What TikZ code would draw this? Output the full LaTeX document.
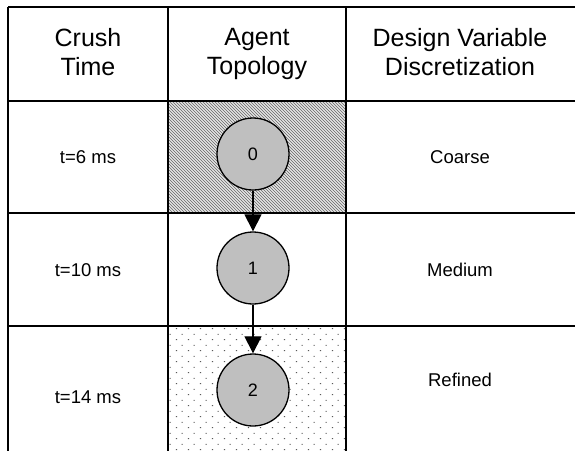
\documentclass[tikz,border=0pt]{standalone}
\usepackage{fontspec}
\setmainfont{Liberation Sans}
\usepackage{tikz}
\usetikzlibrary{patterns,arrows.meta}

\pgfdeclarepatternformonly{sparse dots}{\pgfpointorigin}{\pgfpoint{11.6pt}{11.2pt}}{\pgfpoint{11.6pt}{11.2pt}}{%
  \pgfpathrectangle{\pgfpoint{2pt}{2pt}}{\pgfpoint{1.1pt}{1.1pt}}%
  \pgfpathrectangle{\pgfpoint{7.8pt}{7.6pt}}{\pgfpoint{1.1pt}{1.1pt}}%
  \pgfusepath{fill}}

\begin{document}
\begin{tikzpicture}[x=1pt,y=-1pt]
        \def\colA{8}
        \def\colB{168}
        \def\colC{346}
        \def\rowA{7}
        \def\rowB{101}
        \def\rowC{213}
        \def\rowD{326}
        \tikzstyle{agent}=[circle, draw=black, line width=1.3pt, fill=black!25, minimum size=72pt, inner sep=0pt, font=\fontsize{18}{21}\selectfont]
        \tikzstyle{head}=[align=center, anchor=north, inner sep=0pt, font=\fontsize{25}{29}\selectfont]
        \tikzstyle{cell}=[font=\fontsize{18.5}{22}\selectfont]
        \tikzstyle{grid}=[line width=1.6pt]

        \useasboundingbox (0,0) rectangle (575,451);

        % Shading of the agent cells
        \fill [black!10] (\colB,\rowB) rectangle (\colC,\rowC);
        \fill [pattern=north west lines, pattern color=black!60] (\colB,\rowB) rectangle (\colC,\rowC);
        \fill [pattern=sparse dots, pattern color=black!65] (\colB,\rowD) rectangle (\colC,451);

        % Table
        \foreach \y in {\rowA,\rowB,\rowC,\rowD}
        \draw [grid] (\colA,\y) -- (575,\y);
        \foreach \x in {\colA,\colB,\colC}
        \draw [grid] (\x,\rowA) -- (\x,451);

        % Header
        \draw node at (88, 28) [head] (head_0) {Crush\\Time};
        \draw node at (257, 28) [head] (head_1) {Agent\\Topology};
        \draw node at (460, 28) [head] (head_2) {Design Variable\\Discretization};

        % Crush time
        \draw node at (88, 157) [cell] (time_0) {t=6 ms};
        \draw node at (88, 270) [cell] (time_1) {t=10 ms};
        \draw node at (88, 397) [cell] (time_2) {t=14 ms};

        % Agents
        \draw node at (253, 154) [agent] (agent_0) {0};
        \draw node at (253, 268) [agent] (agent_1) {1};
        \draw node at (253, 390) [agent] (agent_2) {2};

        % Discretization
        \draw node at (460, 157) [cell] (disc_0) {Coarse};
        \draw node at (460, 270) [cell] (disc_1) {Medium};
        \draw node at (460, 380) [cell] (disc_2) {Refined};

        % Agent -> Agent
        \foreach \i/\j in {0/1,1/2}
        \draw [-{Triangle[width=17pt,length=17pt]}, line width=1.1pt] (agent_\i) -- (agent_\j);

    \end{tikzpicture}
\end{document}
